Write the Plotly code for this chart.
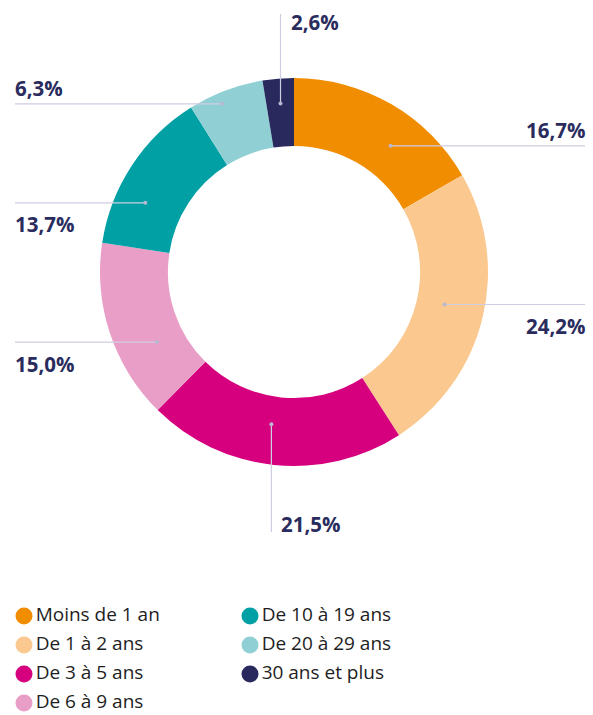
import math
import plotly.graph_objects as go

# ---- data ----
categories = ["Moins de 1 an", "De 1 à 2 ans", "De 3 à 5 ans", "De 6 à 9 ans",
              "De 10 à 19 ans", "De 20 à 29 ans", "30 ans et plus"]
values = [16.7, 24.2, 21.5, 15.0, 13.7, 6.3, 2.6]
colors = ["#F18D00", "#FBC98F", "#D6007F", "#E89EC6", "#00A0A5", "#90D0D4", "#29295E"]

# ---- layout constants (pixels) ----
W, H = 593, 715
CX, CY, R = 294, 272, 194
HOLE = 0.65
TEXT_COLOR = "#2A2C5E"
LINE_COLOR = "#CFCDE2"
DOT_COLOR = "#B9B7D2"
FONT = "Open Sans"
LEFT_X, RIGHT_X, TOP_Y, BOTTOM_Y = 15, 585, 14, 532
LABEL_SIZE = 20.5
LEGEND_SIZE = 19
# leader-dot placement tweaks (angle nudge in degrees from slice middle, radius in px)
LEADER_NUDGE = [7.4, -1.5, 2.5, -8.7, -8.35, -2.5, 0.1]
LEADER_R = [159, 154, 154, 154, 164, 183, 169]

fig = go.Figure()
fig.add_trace(go.Pie(
    labels=categories, values=values,
    marker=dict(colors=colors, line=dict(width=0)),
    hole=HOLE, sort=False, direction="clockwise", rotation=0,
    textinfo="none", showlegend=False,
    hovertemplate="%{label}: %{value:.1f}%<extra></extra>",
    domain=dict(x=[(CX - R) / W, (CX + R) / W], y=[1 - (CY + R) / H, 1 - (CY - R) / H]),
))

# legend drawn as markers + text on a hidden pixel axis
leg_x = [24 + (i // 4) * 226 for i in range(len(categories))]
leg_y = [616 + (i % 4) * 29 for i in range(len(categories))]
fig.add_trace(go.Scatter(
    x=leg_x, y=leg_y, mode="markers+text",
    marker=dict(size=17, color=colors, line=dict(width=0)),
    text=categories, textposition="middle right",
    textfont=dict(family=FONT, size=LEGEND_SIZE, color="#1E1E1E"),
    hoverinfo="skip", showlegend=False,
))

shapes, annotations = [], []
total = sum(values)
cum = 0.0
for i, v in enumerate(values):
    ang = math.radians((cum + v / 2) / total * 360 + LEADER_NUDGE[i])
    cum += v
    s, c = math.sin(ang), math.cos(ang)
    dx, dy = CX + LEADER_R[i] * s, CY - LEADER_R[i] * c
    label = f"{v:.1f}".replace(".", ",") + "%"
    if abs(s) < 0.2:
        ye = TOP_Y if c > 0 else BOTTOM_Y
        shapes.append(dict(type="line", xref="x", yref="y", x0=dx, x1=dx, y0=dy, y1=ye,
                           line=dict(color=LINE_COLOR, width=1.2), layer="above"))
        annotations.append(dict(x=dx + 8, y=(ye + 8) if c > 0 else (ye - 8), xref="x", yref="y",
                                text=label, showarrow=False, xanchor="left", yanchor="middle",
                                font=dict(family=FONT, size=LABEL_SIZE, color=TEXT_COLOR, weight=700)))
    else:
        xe = RIGHT_X if s > 0 else LEFT_X
        shapes.append(dict(type="line", xref="x", yref="y", x0=dx, x1=xe, y0=dy, y1=dy,
                           line=dict(color=LINE_COLOR, width=1.2), layer="above"))
        ly = dy - 15.5 if c > 0.7 else dy + 21.5
        annotations.append(dict(x=xe + (2 if s > 0 else -2), y=ly, xref="x", yref="y", text=label,
                                showarrow=False,
                                xanchor="right" if s > 0 else "left", yanchor="middle",
                                font=dict(family=FONT, size=LABEL_SIZE, color=TEXT_COLOR, weight=700)))
    shapes.append(dict(type="circle", xref="x", yref="y", x0=dx - 2, x1=dx + 2, y0=dy - 2, y1=dy + 2,
                       fillcolor=DOT_COLOR, line=dict(width=0), layer="above"))

fig.update_layout(
    width=W, height=H, margin=dict(l=0, r=0, t=0, b=0),
    paper_bgcolor="white", plot_bgcolor="white",
    xaxis=dict(range=[0, W], visible=False, fixedrange=True, domain=[0, 1]),
    yaxis=dict(range=[H, 0], visible=False, fixedrange=True, domain=[0, 1]),
    shapes=shapes, annotations=annotations, showlegend=False,
    font=dict(family=FONT),
)
fig.write_html("out.html", config={"displayModeBar": False})

# remove the default page margin so the figure sits at the window's top-left
with open("out.html", encoding="utf-8") as f:
    html = f.read()
html = html.replace("<head>", "<head><style>html,body{margin:0;padding:0;overflow:hidden;}</style>", 1)
with open("out.html", "w", encoding="utf-8") as f:
    f.write(html)
